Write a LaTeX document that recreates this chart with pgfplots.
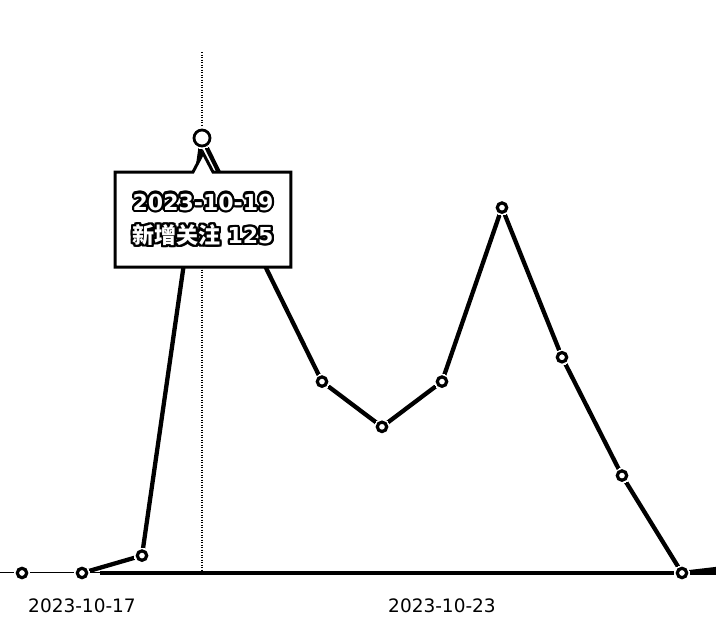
\documentclass[border=0pt]{standalone}
\usepackage{pgfplots}
\pgfplotsset{compat=1.18}
\usepackage{fontspec}
\setmainfont{DejaVu Sans}
\newfontfamily\cjk{Noto Sans CJK SC}

% daily new followers, day 0 = 2023-10-16
\pgfplotstableread{
d  v
1  0
2  5
3  125
4  90
5  55
6  42
7  55
8  105
9  62
10 28
11 0
12 2
}\follows

\newcommand{\tipone}{\bfseries 2023-10-19}
\newcommand{\tiptwo}{{\cjk\bfseries 新增关注} \bfseries 125}

\begin{document}
\begin{tikzpicture}
\useasboundingbox (0,-61pt) rectangle (716pt,573pt);
\clip (0,-61pt) rectangle (716pt,573pt);
\begin{axis}[
    scale only axis,
    width=716pt, height=573pt,
    xmin=-0.3667, xmax=11.5667,
    ymin=0, ymax=164.66,
    axis x line=bottom, axis y line=none,
    x axis line style={-, line width=1pt},
    xtick={1,7}, xticklabels={2023-10-17,2023-10-23},
    major tick length=0pt,
    xticklabel style={font=\fontsize{18.5}{20}\selectfont, yshift=-22pt},
    clip=false,
]
% hover pointer
\addplot[black, line width=1.2pt, dash pattern=on 1.2pt off 1.3pt] coordinates {(3,149.7) (3,0)};
% zero baseline
\addplot[black, line width=3.3pt] coordinates {(1.3,0) (12,0)};
% series
\addplot[black, line width=4.3pt] table[x=d, y=v] {\follows};
\addplot[only marks, mark=*, mark size=7.5pt,
    mark options={fill=white, draw=white, line width=0pt}]
    coordinates {(0,0) (1,0) (2,5) (5,55) (6,42) (7,55) (8,105) (9,62) (10,28) (11,0) (12,2)};
\addplot[only marks, mark=*, mark size=4.7pt,
    mark options={fill=white, draw=black, line width=3.2pt}]
    coordinates {(0,0) (1,0) (2,5) (5,55) (6,42) (7,55) (8,105) (9,62) (10,28) (11,0) (12,2)};
\addplot[only marks, mark=*, mark size=10.5pt,
    mark options={fill=white, draw=white, line width=0pt}]
    coordinates {(3,125)};
\addplot[only marks, mark=*, mark size=8pt,
    mark options={fill=white, draw=black, line width=2.8pt}]
    coordinates {(3,125)};
\coordinate (bl) at (axis cs:1.55,87.93);
\coordinate (tl) at (axis cs:1.55,115.23);
\coordinate (c1) at (axis cs:2.85,115.23);
\coordinate (c2) at (axis cs:3.017,120.69);
\coordinate (c3) at (axis cs:3.183,115.23);
\coordinate (tr) at (axis cs:4.483,115.23);
\coordinate (br) at (axis cs:4.483,87.93);
\coordinate (ta) at (axis cs:3.017,106.6);
\coordinate (tb) at (axis cs:3.017,97.1);
\end{axis}
% tooltip
\draw[fill=white, line width=3pt, line join=miter]
    (bl) -- (tl) -- (c1) -- (c2) -- (c3) -- (tr) -- (br) -- cycle;
\foreach \a in {0,22.5,...,337.5}{
  \node[text=black, font=\fontsize{22}{24}\selectfont] at ([shift={(\a:2.3pt)}]ta) {\tipone};
  \node[text=black, font=\fontsize{22}{24}\selectfont] at ([shift={(\a:2.3pt)}]tb) {\tiptwo};
}
\node[text=white, font=\fontsize{22}{24}\selectfont] at (ta) {\tipone};
\node[text=white, font=\fontsize{22}{24}\selectfont] at (tb) {\tiptwo};
\end{tikzpicture}
\end{document}
